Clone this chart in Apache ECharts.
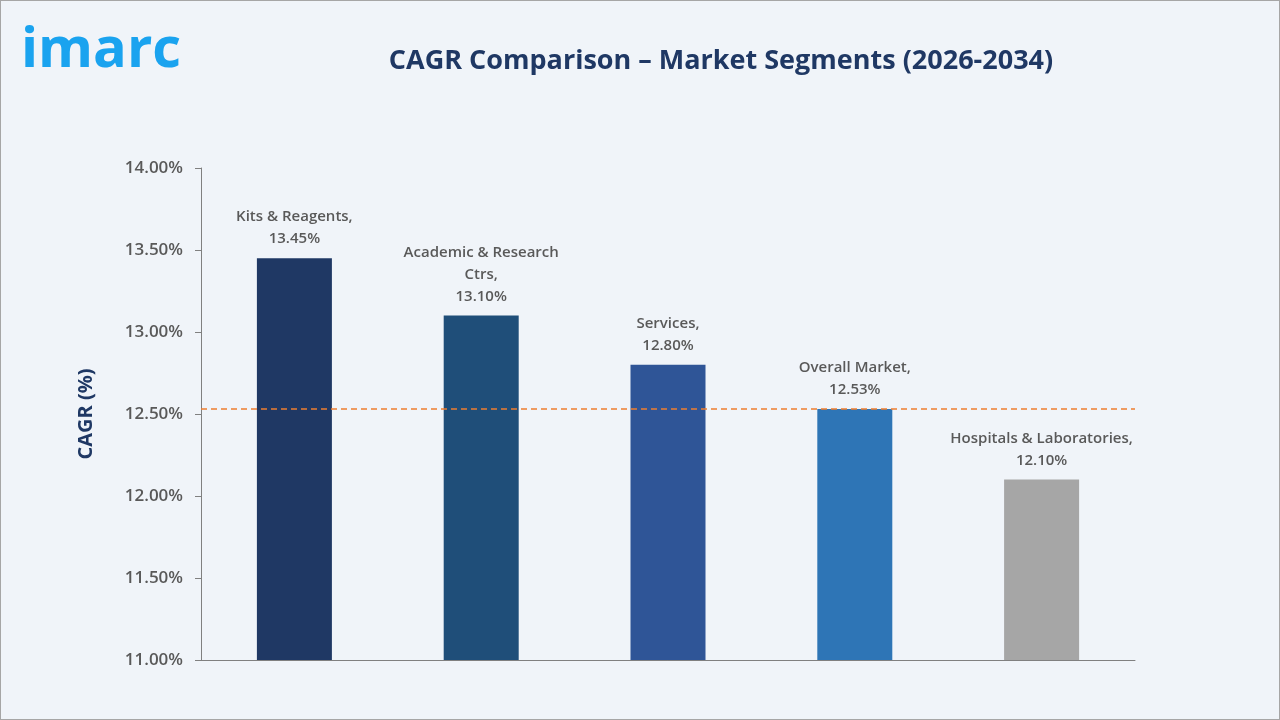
<!DOCTYPE html>
<html><head><meta charset="utf-8">
<script src="https://cdn.jsdelivr.net/npm/echarts@6/dist/echarts.min.js"></script>
<style>html,body{margin:0;padding:0;background:#f0f4f9}#chart{width:1280px;height:720px;box-sizing:border-box;border:1px solid #a6a6a6}</style>
</head><body><div id="chart"></div>
<script>
var categories = ['Kits & Reagents', 'Academic & Research Ctrs', 'Services', 'Overall Market', 'Hospitals & Laboratories'];
var labelNames = ['Kits & Reagents,', 'Academic & Research\nCtrs,', 'Services,', 'Overall Market,', 'Hospitals & Laboratories,'];
var values = [13.45, 13.10, 12.80, 12.53, 12.10];
var colors = ['#1f3864', '#1f4e79', '#2f5597', '#2e75b6', '#a6a6a6'];
var overall = 12.53;

var chart = echarts.init(document.getElementById('chart'));
chart.setOption({
    backgroundColor: '#f0f4f9',
    textStyle: { fontFamily: 'Open Sans' },
    graphic: [{
        type: 'text', left: 20, top: 22,
        style: { text: 'imarc', fill: '#1aa3ef', font: 'bold 56px "Open Sans"' }
    }],
    title: {
        text: 'CAGR Comparison \u2013 Market Segments (2026-2034)',
        left: 715, top: 42, textAlign: 'center',
        textStyle: { color: '#1f3864', fontSize: 27, fontWeight: 'bold' }
    },
    grid: { left: 200, right: 144, top: 167, bottom: 59 },
    xAxis: {
        type: 'category', data: categories,
        axisLine: { lineStyle: { color: '#808080' } },
        axisTick: { show: false }, axisLabel: { show: false }
    },
    yAxis: {
        type: 'value', min: 11, max: 14, interval: 0.5,
        name: 'CAGR (%)', nameLocation: 'middle', nameGap: 105,
        nameTextStyle: { color: '#1f3864', fontSize: 20, fontWeight: 'bold' },
        axisLine: { show: true, lineStyle: { color: '#808080' } },
        axisTick: { show: true, length: 6, lineStyle: { color: '#808080' } },
        splitLine: { show: false },
        axisLabel: { color: '#595959', fontSize: 17, fontWeight: 600, margin: 18,
            formatter: function (v) { return v.toFixed(2) + '%'; } }
    },
    series: [{
        type: 'bar', barWidth: 75,
        data: values.map(function (v, i) { return { value: v, itemStyle: { color: colors[i] } }; }),
        label: {
            show: true, position: 'top', distance: 8, color: '#595959', fontSize: 15, fontWeight: 600, lineHeight: 22,
            formatter: function (p) { return labelNames[p.dataIndex] + '\n' + p.value.toFixed(2) + '%'; }
        },
        markLine: {
            symbol: 'none', silent: true, label: { show: false },
            lineStyle: { color: '#ed7d31', type: [6, 4], width: 1.5 },
            data: [{ yAxis: overall }]
        }
    }]
});
</script></body></html>
